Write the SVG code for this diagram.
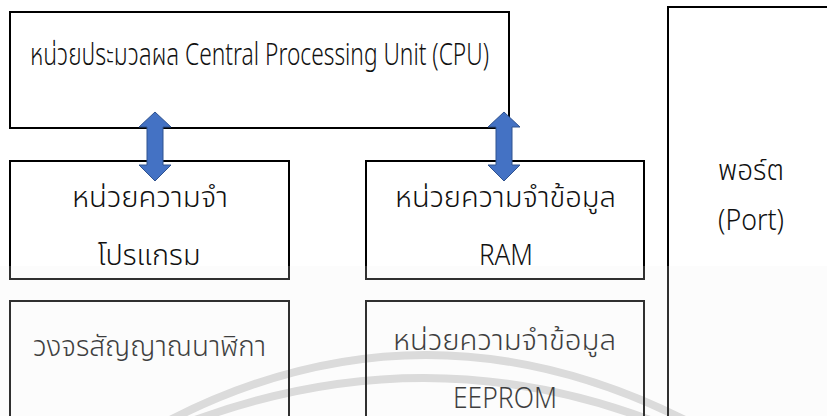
<svg xmlns="http://www.w3.org/2000/svg" width="827" height="416" viewBox="0 0 827 416">
  <style>
    .box { fill: none; stroke: #000; stroke-width: 2; }
    .t { font-family: "Noto Sans", "Noto Sans Thai", "DejaVu Sans", sans-serif; font-size: 29px; font-weight: 300; fill: #111; text-anchor: middle; }
    .arr { fill: #4472C4; stroke: #2F528F; stroke-width: 1; }
    .wm { fill: none; stroke: #d6d6d6; stroke-width: 8; }
  </style>
  <rect x="0" y="0" width="827" height="416" fill="#fff"/>
  <g id="watermark">
    <path class="wm" d="M170,420 Q425,290 685,420"/>
    <path class="wm" d="M195,420 Q425,336 650,420"/>
  </g>
  <g id="cpu">
    <rect class="box" x="10" y="12" width="499" height="116"/>
    <text class="t" x="259.5" y="65" style="font-size:31px" textLength="459" lengthAdjust="spacingAndGlyphs">หน่วยประมวลผล Central Processing Unit (CPU)</text>
  </g>
  <g id="program-memory">
    <rect class="box" x="10" y="161" width="279" height="118"/>
    <text class="t" x="150" y="207" textLength="156" lengthAdjust="spacingAndGlyphs">หน่วยความจำ</text>
    <text class="t" x="149" y="265" textLength="103" lengthAdjust="spacingAndGlyphs">โปรแกรม</text>
  </g>
  <g id="ram">
    <rect class="box" x="366" y="161" width="278" height="118"/>
    <text class="t" x="505.5" y="207" textLength="221" lengthAdjust="spacingAndGlyphs">หน่วยความจำข้อมูล</text>
    <text class="t" x="506" y="265" textLength="54" lengthAdjust="spacingAndGlyphs">RAM</text>
  </g>
  <g id="clock">
    <rect class="box" x="10" y="301" width="279" height="130"/>
    <text class="t" x="149.5" y="356" textLength="233" lengthAdjust="spacingAndGlyphs">วงจรสัญญาณนาฬิกา</text>
  </g>
  <g id="eeprom">
    <rect class="box" x="366" y="301" width="278" height="130"/>
    <text class="t" x="504.5" y="350" textLength="223" lengthAdjust="spacingAndGlyphs">หน่วยความจำข้อมูล</text>
    <text class="t" x="505" y="408" textLength="104" lengthAdjust="spacingAndGlyphs">EEPROM</text>
  </g>
  <g id="port">
    <rect class="box" x="668" y="7" width="180" height="430"/>
    <text class="t" x="751" y="180" textLength="66" lengthAdjust="spacingAndGlyphs">พอร์ต</text>
    <text class="t" x="751" y="230" textLength="66" lengthAdjust="spacingAndGlyphs">(Port)</text>
  </g>
  <g id="connectors">
    <path class="arr" d="M155,112 L171,127 L163,127 L163,165 L171,165 L155,181 L139,165 L147,165 L147,127 L139,127 Z"/>
    <path class="arr" d="M504,112 L520,127 L512,127 L512,165 L520,165 L504,181 L488,165 L496,165 L496,127 L488,127 Z"/>
  </g>
  <rect x="0" y="266" width="827" height="150" fill="#f0f0f0" opacity="0.2"/>
</svg>
